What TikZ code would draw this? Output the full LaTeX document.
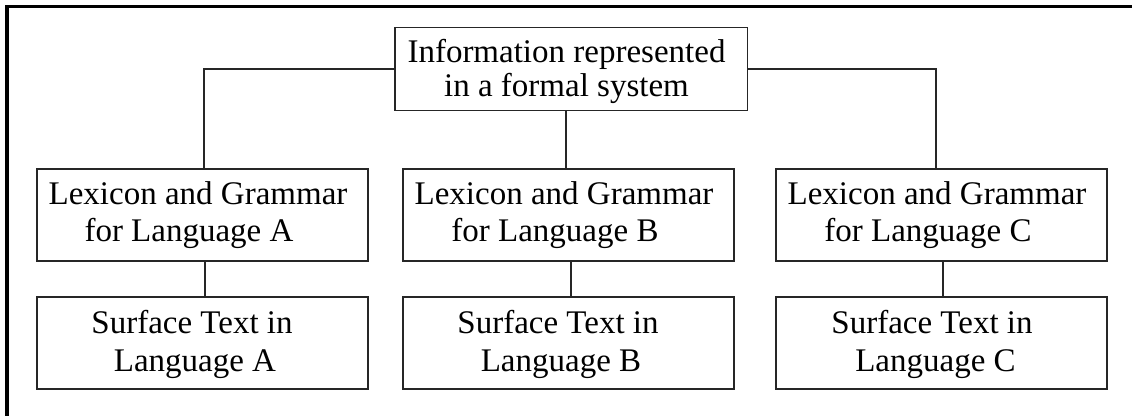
\documentclass[tikz,border=0pt]{standalone}
\usepackage{fontspec}
\setmainfont{Liberation Serif}
\begin{document}
\begin{tikzpicture}[x=1pt,y=-1pt,
  box/.style={draw=black!85,line width=1.5pt,inner sep=0pt,minimum width=331pt,minimum height=92pt},
  topbox/.style={box,minimum width=352.7pt,minimum height=83.4pt},
  txt/.style={inner sep=0pt,align=center,font=\fontsize{33}{37.5}\selectfont},
  toptxt/.style={inner sep=0pt,align=center,font=\fontsize{33}{34.5}\selectfont},
  conn/.style={draw=black!85,line width=1.4pt},
  frame/.style={draw=black,line width=3.6pt}]
\useasboundingbox (0,0) rectangle (1132,415);
% outer frame (top and left edges)
\draw[frame] (7,430) -- (7,6.5) -- (1140,6.5);
% boxes
\node[topbox] (top) at (571.3,69) {};
\node[box] (la) at (202.5,215) {};
\node[box] (lb) at (568.5,215) {};
\node[box] (lc) at (941.5,215) {};
\node[box] (sa) at (202.5,343) {};
\node[box] (sb) at (568.5,343) {};
\node[box] (sc) at (941.5,343) {};
% texts
\node[toptxt] (topt) at (566.5,71.3) {Information represented\\in a formal system};
\node[txt] (lat) at (la.center) {Lexicon and Grammar\hspace*{9pt}\\for Language A\hspace*{27pt}};
\node[txt] (lbt) at (lb.center) {Lexicon and Grammar\hspace*{9pt}\\for Language B\hspace*{27pt}};
\node[txt] (lct) at (lc.center) {Lexicon and Grammar\hspace*{9pt}\\for Language C\hspace*{27pt}};
\node[txt] (sat) at ([yshift=-1.5pt]sa.center) {Surface Text in\hspace*{21pt}\\Language A\hspace*{15pt}};
\node[txt] (sbt) at ([yshift=-1.5pt]sb.center) {Surface Text in\hspace*{21pt}\\Language B\hspace*{15pt}};
\node[txt] (sct) at ([yshift=-1.5pt]sc.center) {Surface Text in\hspace*{19pt}\\Language C\hspace*{12pt}};
% connectors
\draw[conn] (top.west) -| ([xshift=1.5pt]la.north);
\draw[conn] (top.east) -| ([xshift=-5.5pt]lc.north);
\draw[conn] ([xshift=-5.5pt]top.south) -- ([xshift=-5.5pt]top.south |- lb.north);
\draw[conn] ([xshift=2.5pt]la.south) -- ([xshift=2.5pt]la.south |- sa.north);
\draw[conn] ([xshift=2.5pt]lb.south) -- ([xshift=2.5pt]lb.south |- sb.north);
\draw[conn] ([xshift=1.5pt]lc.south) -- ([xshift=1.5pt]lc.south |- sc.north);
\end{tikzpicture}
\end{document}
